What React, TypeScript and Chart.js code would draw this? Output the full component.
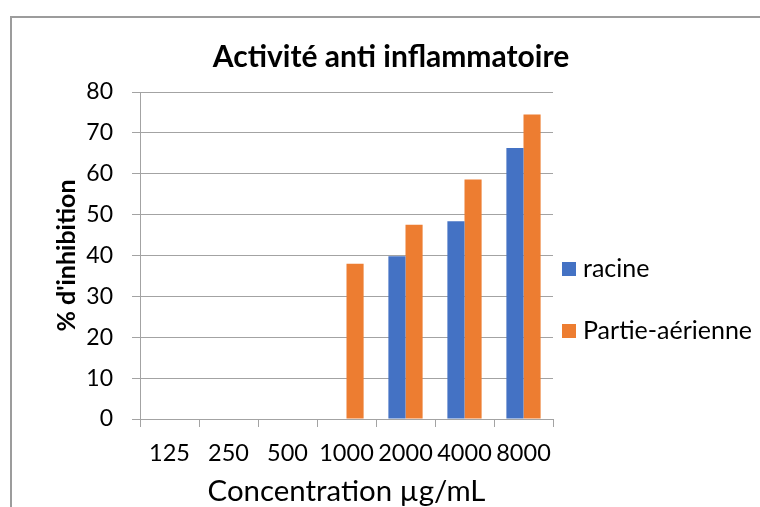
import { useEffect, useRef } from "react";
import { Chart, registerables } from "chart.js";

Chart.register(...registerables);

// Concentrations tested (µg/mL) and % inhibition per plant part
const concentrations = ["125", "250", "500", "1000", "2000", "4000", "8000"];
const racine = [0, 0, 0, 0, 39.8, 48.4, 66.3];
const partieAerienne = [0, 0, 0, 38.0, 47.5, 58.6, 74.5];

const seriesLabels = ["racine", "Partie-aérienne"];
const seriesColors = ["#4472C4", "#ED7D31"];

const yMin = 0;
const yMax = 80;
const yStep = 10;

const chartTitle = "Activité anti inflammatoire";
const xAxisTitle = "Concentration µg/mL";
const yAxisTitle = "% d'inhibition";

const FONT = "Lato, 'Open Sans', sans-serif";
const GRID = "#a3a3a3";

// Chart title centred on the whole canvas and a legend laid out to the right of the plot
const titleAndLegend = {
  id: "titleAndLegend",
  afterDraw(chart: any) {
    const { ctx, chartArea } = chart;
    ctx.save();
    ctx.fillStyle = "#000";
    ctx.textAlign = "center";
    ctx.textBaseline = "alphabetic";
    ctx.font = `bold 30px ${FONT}`;
    ctx.fillText(chartTitle, chart.width / 2, chartArea.top - 25);

    ctx.textAlign = "left";
    ctx.font = `25px ${FONT}`;
    chart.data.datasets.forEach((ds: any, i: number) => {
      const boxTop = chartArea.top + 170 + i * 62;
      ctx.fillStyle = ds.backgroundColor;
      ctx.fillRect(chartArea.right + 9, boxTop, 14, 14);
      ctx.fillStyle = "#000";
      ctx.fillText(ds.label, chartArea.right + 30, boxTop + 14.5);
    });
    ctx.restore();
  },
};

export default function App() {
  const canvasRef = useRef<HTMLCanvasElement | null>(null);

  useEffect(() => {
    if (!canvasRef.current) return;
    const chart = new Chart(canvasRef.current, {
      type: "bar",
      data: {
        labels: concentrations,
        datasets: [
          {
            label: seriesLabels[0],
            data: racine,
            backgroundColor: seriesColors[0],
            borderWidth: 0,
            barPercentage: 1,
            categoryPercentage: 0.58,
          },
          {
            label: seriesLabels[1],
            data: partieAerienne,
            backgroundColor: seriesColors[1],
            borderWidth: 0,
            barPercentage: 1,
            categoryPercentage: 0.58,
          },
        ],
      },
      options: {
        animation: false,
        responsive: false,
        maintainAspectRatio: false,
        layout: { padding: { top: 74, right: 217, left: 0, bottom: 0 } },
        plugins: {
          legend: { display: false },
          title: { display: false },
          tooltip: { enabled: false },
        },
        scales: {
          x: {
            offset: true,
            afterFit(scale: any) {
              scale.height = 99;
            },
            grid: {
              offset: true,
              drawOnChartArea: false,
              drawTicks: true,
              tickLength: 8,
              color: GRID,
              lineWidth: 1,
            },
            border: { display: true, color: GRID, width: 1 },
            ticks: {
              color: "#000",
              font: { family: FONT, size: 23.5 },
              padding: 12,
              maxRotation: 0,
              autoSkip: false,
            },
            title: {
              display: true,
              text: xAxisTitle,
              color: "#000",
              font: { family: FONT, size: 29.4 },
              padding: { top: 4, bottom: 8.4 },
            },
          },
          y: {
            min: yMin,
            max: yMax,
            afterFit(scale: any) {
              scale.width = 128;
            },
            grid: {
              color: GRID,
              lineWidth: 1,
              drawTicks: true,
              tickLength: 8,
            },
            border: { display: true, color: GRID, width: 1 },
            ticks: {
              stepSize: yStep,
              color: "#000",
              font: { family: FONT, size: 23 },
              padding: 19,
            },
            title: {
              display: true,
              text: yAxisTitle,
              color: "#000",
              font: { family: FONT, size: 25, weight: "bold" },
              padding: { top: 40, bottom: 4 },
            },
          },
        },
      },
      plugins: [titleAndLegend],
    });
    return () => chart.destroy();
  }, []);

  return (
    <div
      style={{
        position: "fixed",
        left: 10,
        top: 16,
        width: 760,
        height: 520,
        borderLeft: "2px solid #9c9c9c",
        borderTop: "2px solid #9c9c9c",
        background: "#fff",
      }}
    >
      <canvas ref={canvasRef} width={758} height={500} style={{ display: "block" }} />
    </div>
  );
}
